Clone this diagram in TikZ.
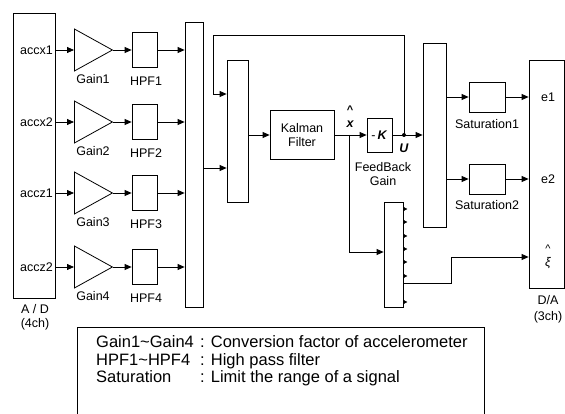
\documentclass[tikz,border=0pt]{standalone}
\usepackage{fontspec}
\setmainfont{Liberation Sans}
\usetikzlibrary{arrows.meta,shapes.geometric}
\begin{document}
\begin{tikzpicture}[x=1pt,y=-1pt,
  blk/.style={draw, line width=0.8pt, inner sep=0pt},
  gainT/.style={draw, line width=0.8pt, isosceles triangle, isosceles triangle stretches, minimum width=42pt, minimum height=38pt, inner sep=0pt, anchor=west},
  lbl/.style={font=\fontsize{12.5}{14}\selectfont, inner sep=0pt},
  leg/.style={font=\fontsize{16.5}{18}\selectfont, inner sep=0pt, anchor=base west},
  arr/.style={-{Triangle[length=7pt,width=6pt]}, line width=0.8pt},
  tip/.style={-{Triangle[length=4pt,width=4pt]}, line width=0.6pt}]
\useasboundingbox (0,0) rectangle (565,414);
% A/D
\node[blk, minimum width=42pt, minimum height=285pt] (ad) at (34,155.5) {};
\node[lbl, anchor=east] (ax1) at (53,50) {accx1};
\node[lbl, anchor=east] (ax2) at (53,122) {accx2};
\node[lbl, anchor=east] (az1) at (53,193) {accz1};
\node[lbl, anchor=east] (az2) at (53,267) {accz2};
\node[lbl] (adl) at (35,309) {A / D};
\node[lbl] (adc) at (35,324) {(4ch)};
% gains and HPFs
\foreach \i/\y in {1/50,2/122,3/193,4/267}{
  \node[gainT] (g\i) at (74,\y) {};
  \node[lbl] (gl\i) at (93,\y+29) {Gain\i};
  \node[blk, minimum width=25pt, minimum height=35pt] (h\i) at (144.5,\y) {};
  \node[lbl] (hl\i) at (146,\y+31) {HPF\i};
}
% mux blocks
\node[blk, minimum width=18pt, minimum height=285pt] (m1) at (194,164.5) {};
\node[blk, minimum width=21pt, minimum height=142pt] (m2) at (237.5,131) {};
\node[blk, minimum width=64pt, minimum height=49pt, align=center, lbl] (kf) at (302,135) {Kalman\\Filter};
\node[blk, minimum width=25pt, minimum height=34pt, lbl] (K) at (379.5,135) {-\,\textbf{\textit{K}}};
\node[lbl, align=center] (fbl) at (383,174) {FeedBack\\Gain};
\node[blk, minimum width=23pt, minimum height=184pt] (m3) at (434.5,135) {};
\node[blk, minimum width=19pt, minimum height=105pt] (dm) at (393.5,254.5) {};
\node[blk, minimum width=36pt, minimum height=30pt] (s1) at (487,97) {};
\node[blk, minimum width=36pt, minimum height=30pt] (s2) at (487,179) {};
\node[lbl] (s1l) at (487,124) {Saturation1};
\node[lbl] (s2l) at (487,205) {Saturation2};
\node[blk, minimum width=35pt, minimum height=228pt] (da) at (546.5,174) {};
\node[lbl] (e1) at (548,97) {e1};
\node[lbl] (e2) at (548,179) {e2};
\node[lbl, font=\fontsize{11}{12}\selectfont] (xihat) at (548,249) {\textasciicircum};
\node[lbl, font=\fontsize{12.5}{14}\selectfont\itshape] (xi) at (548,263) {ξ};
\node[lbl] (dal) at (548,300) {D/A};
\node[lbl] (dac) at (548,317) {(3ch)};
\node[lbl, font=\fontsize{11}{12}\selectfont\bfseries] (xhat) at (350,110) {\textasciicircum};
\node[lbl, font=\fontsize{12.5}{14}\selectfont\bfseries\itshape] (xh) at (350,124) {x};
\node[lbl, font=\fontsize{12.5}{14}\selectfont\bfseries\itshape] (ul) at (404,148) {U};
% connectors
\foreach \i in {1,2,3,4}{
  \draw[arr] (ad.east |- g\i.west) -- (g\i.west);
  \draw[arr] (g\i.apex) -- (h\i.west |- g\i.apex);
  \draw[arr] (h\i.east) -- (m1.west |- h\i.east);
}
\draw[arr] (m1.east |- 0,168) -- (m2.west |- 0,168);
\draw[arr] (m2.east |- kf.west) -- (kf.west);
\coordinate (xb) at (349,135);
\coordinate (u) at (404,135);
\coordinate (lt) at (213,35);
\draw[arr] (kf.east) -- (K.west);
\draw[arr] (xb) |- (dm.west |- 0,252);
\draw[arr] (K.east) -- (m3.west |- K.east);
\fill (u) circle (2pt);
\draw[arr] (u) |- (lt) |- (m2.west |- 0,94);
\draw[arr] (m3.east |- s1.west) -- (s1.west);
\draw[arr] (s1.east) -- (da.west |- s1.east);
\draw[arr] (m3.east |- s2.west) -- (s2.west);
\draw[arr] (s2.east) -- (da.west |- s2.east);
\foreach \y in {209,222,236,249,262,276,302}{
  \draw[tip] (dm.east |- 0,\y) -- ++(4,0);
}
\draw[arr] (dm.east |- 0,283) -| (451,257) -- (da.west |- 0,257);
% legend
\draw[line width=0.8pt] (77,414) -- (77,327) -- (484,327) -- (484,414);
\node[leg] (l1a) at (96,347) {Gain1\textasciitilde Gain4};
\node[leg] (l1b) at (200,347) {: Conversion factor of accelerometer};
\node[leg] (l2a) at (96,365) {HPF1\textasciitilde HPF4};
\node[leg] (l2b) at (200,365) {: High pass filter};
\node[leg] (l3a) at (96,382) {Saturation};
\node[leg] (l3b) at (200,382) {: Limit the range of a signal};
\end{tikzpicture}
\end{document}
